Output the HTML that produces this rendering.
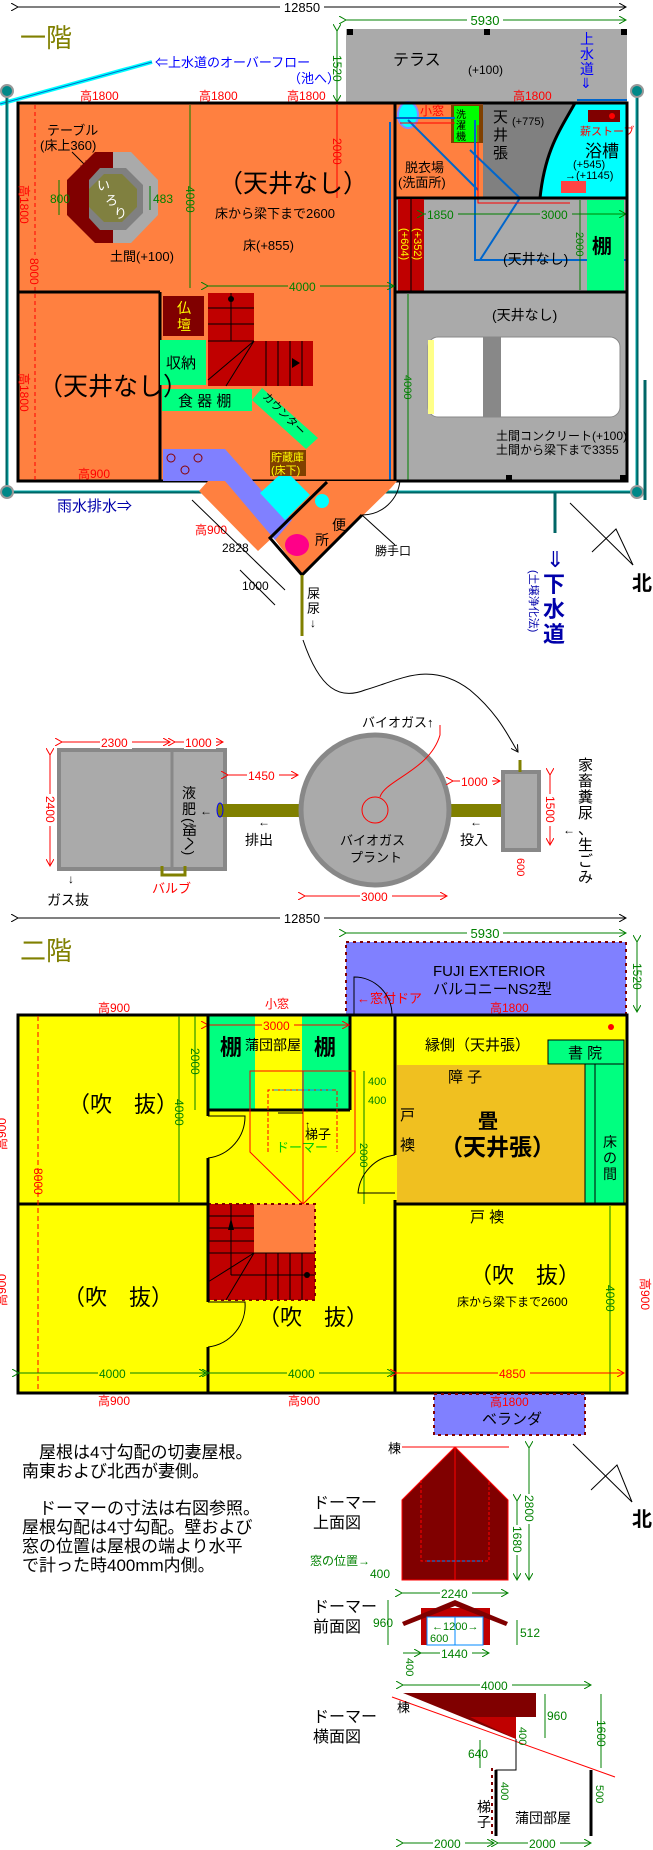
<!DOCTYPE html>
<html><head><meta charset="utf-8"><style>
html,body{margin:0;padding:0;background:#fff;}
svg{display:block;font-family:"Liberation Sans","Noto Sans CJK JP",sans-serif;}
</style></head><body>
<svg width="653" height="1850" viewBox="0 0 653 1850" xmlns="http://www.w3.org/2000/svg">
<defs>
<marker id="ab" markerWidth="8" markerHeight="8" refX="7" refY="4" orient="auto"><path d="M0,0 L7,4 L0,8" fill="none" stroke="#000"/></marker>
<marker id="ag" markerWidth="8" markerHeight="8" refX="7" refY="4" orient="auto"><path d="M0,0 L7,4 L0,8" fill="none" stroke="#008000"/></marker>
<marker id="ar" markerWidth="8" markerHeight="8" refX="7" refY="4" orient="auto"><path d="M0,0 L7,4 L0,8" fill="none" stroke="#f00"/></marker>
</defs>

<!-- ===== 1F ===== -->
<line x1="18" y1="7" x2="626" y2="7" stroke="#000" marker-start="url(#ab)" marker-end="url(#ab)"/>
<rect x="280" y="0" width="44" height="14" fill="#fff"/><text x="302" y="12" font-size="13" text-anchor="middle">12850</text>
<line x1="346" y1="20" x2="626" y2="20" stroke="#008000" marker-start="url(#ag)" marker-end="url(#ag)"/>
<rect x="467" y="13" width="36" height="14" fill="#fff"/><text x="485" y="25" font-size="13" fill="#008000" text-anchor="middle">5930</text>
<text x="20" y="47" font-size="26" fill="#808000">一階</text>

<rect x="346" y="29" width="281" height="75" fill="#aaa"/>
<rect x="347" y="29" width="6" height="6"/><rect x="484" y="29" width="6" height="6"/><rect x="621" y="29" width="6" height="6"/>
<text x="393" y="65" font-size="16">テラス</text><text x="468" y="74" font-size="12">(+100)</text>
<line x1="337" y1="31" x2="337" y2="102" stroke="#008000" marker-start="url(#ag)" marker-end="url(#ag)"/>
<text x="0" y="0" font-size="12" fill="#008000" transform="translate(333,55) rotate(90)">1520</text>
<text x="580" y="44" font-size="14" fill="#00f">上</text><text x="580" y="59" font-size="14" fill="#00f">水</text><text x="580" y="74" font-size="14" fill="#00f">道</text><text x="580" y="88" font-size="14" fill="#00f">⇓</text>

<line x1="0" y1="104" x2="152" y2="62" stroke="#0ff" stroke-width="4"/>
<line x1="0" y1="104" x2="152" y2="62" stroke="#06c" stroke-width="1"/>
<text x="155" y="67" font-size="13" fill="#00f">⇐上水道のオーバーフロー</text>
<text x="288" y="83" font-size="13" fill="#00f">（池へ）</text>
<g font-size="12" fill="#f00"><text x="80" y="100">高1800</text><text x="199" y="100">高1800</text><text x="287" y="100">高1800</text><text x="513" y="100">高1800</text></g>

<!-- drains -->
<g stroke="#066" stroke-width="3" fill="none"><path d="M7,91 V492 H637 V91"/></g>
<g stroke="#0aa" stroke-width="1" fill="none"><path d="M8,91 V491 H636 V91"/></g>
<g fill="#088" stroke="#999" stroke-width="2"><circle cx="7" cy="91" r="6"/><circle cx="637" cy="91" r="6"/><circle cx="7" cy="492" r="6"/><circle cx="637" cy="492" r="6"/></g>
<line x1="645" y1="380" x2="645" y2="500" stroke="#066" stroke-width="3"/>

<!-- building -->
<rect x="18" y="103" width="377" height="378" fill="#ff8040"/>
<rect x="395" y="103" width="232" height="378" fill="#aaa"/>
<rect x="395" y="103" width="88" height="95" fill="#ff8040"/>
<path d="M483,103 H575 C560,130 545,150 540,198 H483 Z" fill="#808080"/>
<path d="M575,103 H626 V198 H540 C545,150 560,130 575,103 Z" fill="#0ff"/>
<path d="M575,103 C560,130 545,150 540,198" stroke="#000" stroke-width="3" fill="none"/>
<rect x="588" y="110" width="32" height="12" fill="#800000"/><circle cx="612" cy="116" r="3" fill="#f00"/>
<text x="580" y="135" font-size="11" fill="#f00">薪ストーブ</text>
<text x="585" y="157" font-size="17">浴槽</text><text x="573" y="168" font-size="11">(+545)</text><text x="565" y="179" font-size="11">→(+1145)</text>
<rect x="561" y="181" width="25" height="12" fill="#f44"/>
<text x="512" y="125" font-size="11">(+775)</text>
<text x="493" y="122" font-size="15">天</text><text x="493" y="140" font-size="15">井</text><text x="493" y="158" font-size="15">張</text>
<rect x="451" y="105" width="32" height="38" fill="#804000"/><rect x="454" y="106" width="25" height="36" fill="#0f0"/>
<text x="456" y="118" font-size="10">洗</text><text x="456" y="129" font-size="10">濯</text><text x="456" y="140" font-size="10">機</text>
<text x="420" y="115" font-size="12" fill="#f00">小窓</text>
<ellipse cx="408" cy="115" rx="10" ry="13" fill="#0ff" stroke="#88f" stroke-width="2"/>
<text x="405" y="172" font-size="13">脱衣場</text><text x="398" y="187" font-size="13">(洗面所)</text>
<g stroke="#06c" stroke-width="2" fill="none"><path d="M408,120 L478,190"/><path d="M470,150 L520,198 L480,260"/><path d="M395,118 H455"/><path d="M475,120 V260 H627"/><path d="M577,100 H627"/><path d="M390,122 V480 L300,560"/></g>
<g stroke="#f00" stroke-width="1" fill="none"><path d="M400,123 H455"/><path d="M478,125 V203 H570"/></g>
<line x1="395" y1="198" x2="627" y2="198" stroke="#000" stroke-width="3"/>
<rect x="398" y="199" width="26" height="93" fill="#c00000"/><line x1="411" y1="199" x2="411" y2="292" stroke="#000"/>
<text x="0" y="0" font-size="11" fill="#ff0" transform="translate(401,228) rotate(90)">(+604)</text>
<text x="0" y="0" font-size="11" fill="#ff0" transform="translate(414,228) rotate(90)">(+352)</text>
<rect x="587" y="200" width="37" height="92" fill="#00ff80"/>
<text x="592" y="253" font-size="20" font-weight="bold">棚</text>
<line x1="424" y1="214" x2="626" y2="214" stroke="#008000" marker-start="url(#ag)" marker-end="url(#ag)"/>
<rect x="426" y="207" width="32" height="14" fill="#aaa"/><text x="427" y="219" font-size="12" fill="#008000">1850</text>
<rect x="540" y="207" width="32" height="14" fill="#aaa"/><text x="541" y="219" font-size="12" fill="#008000">3000</text>
<line x1="580" y1="200" x2="580" y2="290" stroke="#008000"/>
<text x="0" y="0" font-size="11" fill="#008000" transform="translate(576,232) rotate(90)">2000</text>
<text x="503" y="264" font-size="14">(天井なし)</text>
<line x1="395" y1="292" x2="627" y2="292" stroke="#000" stroke-width="3"/>
<text x="492" y="320" font-size="14">(天井なし)</text>
<!-- car -->
<rect x="428" y="337" width="192" height="80" rx="10" fill="#fff" stroke="#888"/>
<rect x="483" y="337" width="18" height="80" fill="#888"/>
<rect x="428" y="340" width="6" height="74" fill="#ff8"/>
<text x="496" y="440" font-size="12">土間コンクリート(+100)</text>
<text x="496" y="454" font-size="12">土間から梁下まで3355</text>
<line x1="408" y1="294" x2="408" y2="480" stroke="#008000"/>
<text x="0" y="0" font-size="11" fill="#008000" transform="translate(404,375) rotate(90)">4000</text>
<rect x="506" y="475" width="6" height="6"/><rect x="620" y="475" width="6" height="6"/>
<line x1="395" y1="103" x2="395" y2="481" stroke="#000" stroke-width="3"/>
<rect x="18" y="103" width="609" height="378" fill="none" stroke="#000" stroke-width="3"/>

<!-- left 1F -->
<text x="47" y="135" font-size="13">テーブル</text><text x="40" y="150" font-size="13">(床上360)</text>
<line x1="72" y1="152" x2="88" y2="168" stroke="#000" marker-end="url(#ab)"/>
<polygon points="95,152 113,152 113,243 95,243 67,215 67,180" fill="#800000"/>
<polygon points="113,152 131,152 158,180 158,215 131,243 113,243" fill="#aaa"/>
<polygon points="100,168 126,168 143,185 143,213 126,230 100,230 89,218 89,180" fill="#808080"/>
<polygon points="104,174 122,174 137,189 137,207 122,222 104,222 89,207 89,189" fill="#808040"/>
<text x="97" y="190" font-size="13" fill="#fff">い</text><text x="105" y="205" font-size="13" fill="#fff">ろ</text><text x="114" y="218" font-size="13" fill="#fff">り</text>
<line x1="59" y1="180" x2="59" y2="215" stroke="#008000"/><text x="50" y="203" font-size="12" fill="#008000">800</text>
<line x1="150" y1="186" x2="150" y2="210" stroke="#008000"/><text x="153" y="203" font-size="12" fill="#008000">483</text>
<text x="110" y="261" font-size="13">土間(+100)</text>
<line x1="35" y1="105" x2="35" y2="480" stroke="#f00" stroke-dasharray="4,3"/>
<rect x="30" y="255" width="12" height="30" fill="#ff8040"/>
<text x="0" y="0" font-size="12" fill="#f00" transform="translate(30,258) rotate(90)">8000</text>
<text x="0" y="0" font-size="12" fill="#f00" transform="translate(20,185) rotate(90)">高1800</text>
<text x="0" y="0" font-size="12" fill="#f00" transform="translate(20,373) rotate(90)">高1800</text>
<line x1="190" y1="105" x2="190" y2="288" stroke="#008000"/>
<text x="0" y="0" font-size="12" fill="#008000" transform="translate(186,186) rotate(90)">4000</text>
<line x1="337" y1="104" x2="337" y2="198" stroke="#f00"/>
<text x="0" y="0" font-size="12" fill="#f00" transform="translate(333,138) rotate(90)">2000</text>
<text x="218" y="192" font-size="25">（天井なし）</text>
<text x="215" y="218" font-size="13">床から梁下まで2600</text>
<text x="243" y="250" font-size="13">床(+855)</text>
<line x1="208" y1="286" x2="394" y2="286" stroke="#008000" marker-start="url(#ag)" marker-end="url(#ag)"/>
<rect x="288" y="279" width="32" height="14" fill="#ff8040"/><text x="289" y="291" font-size="12" fill="#008000">4000</text>
<line x1="18" y1="292" x2="160" y2="292" stroke="#000" stroke-width="3"/>
<line x1="160" y1="292" x2="160" y2="481" stroke="#000" stroke-width="3"/>
<rect x="163" y="296" width="41" height="40" fill="#800000"/><text x="177" y="313" font-size="14" fill="#ff0">仏</text><text x="177" y="330" font-size="14" fill="#ff0">壇</text>
<rect x="160" y="340" width="46" height="45" fill="#00ff80"/><text x="166" y="368" font-size="15">収納</text>
<rect x="208" y="293" width="46" height="93" fill="#c00000"/><rect x="254" y="341" width="59" height="45" fill="#c00000"/>
<g stroke="#000" stroke-width="1"><line x1="208" y1="308" x2="254" y2="308"/><line x1="208" y1="324" x2="254" y2="324"/><line x1="231" y1="293" x2="231" y2="341"/><line x1="266" y1="341" x2="266" y2="386"/><line x1="278" y1="341" x2="278" y2="386"/><line x1="290" y1="341" x2="290" y2="386"/><line x1="302" y1="341" x2="302" y2="386"/><line x1="208" y1="341" x2="254" y2="341"/><line x1="208" y1="380" x2="254" y2="341"/><line x1="226" y1="386" x2="254" y2="341"/></g>
<circle cx="231" cy="299" r="3"/><path d="M292,358 L300,363 L292,368 Z"/>
<rect x="162" y="389" width="90" height="22" fill="#00ff80"/><text x="178" y="406" font-size="15">食 器 棚</text>
<polygon points="262,388 318,438 306,449 252,400" fill="#00ff80"/>
<text x="0" y="0" font-size="11" transform="translate(262,397) rotate(45)">カウンター</text>
<text x="38" y="395" font-size="25">（天井なし）</text>
<text x="78" y="478" font-size="12" fill="#f00">高900</text>
<!-- annex -->
<polygon points="199,491 208,481 397,481 391,488 302,575 273,537 258,551" fill="#ff8040"/>
<polygon points="163,449 225,449 270,500 292,520 275,540 225,481 163,481" fill="#8080ff"/>
<polygon points="260,493 285,470 310,495 285,520" fill="#0ff"/>
<g fill="none" stroke="#800" stroke-width="1"><circle cx="171" cy="458" r="4"/><circle cx="198" cy="458" r="4"/><circle cx="185" cy="470" r="4"/></g>
<rect x="270" y="450" width="36" height="26" fill="#804000"/>
<text x="271" y="461" font-size="11" fill="#ff0">貯蔵庫</text><text x="271" y="474" font-size="11" fill="#ff0">(床下)</text>
<path d="M327,482 L270,538 L302,575 L362,515" fill="none" stroke="#000" stroke-width="3"/>
<path d="M362,515 A38,38 0 0 0 400,480" fill="none" stroke="#000"/>
<line x1="362" y1="515" x2="395" y2="545" stroke="#000"/>
<ellipse cx="297" cy="545" rx="12" ry="11" fill="#f08"/>
<circle cx="322" cy="501" r="7" fill="#0ff"/>
<text x="332" y="530" font-size="14">便</text><text x="315" y="545" font-size="14">所</text>
<text x="375" y="555" font-size="12">勝手口</text>
<text x="195" y="534" font-size="12" fill="#f00">高900</text>
<line x1="192" y1="500" x2="285" y2="590" stroke="#000"/>
<text x="222" y="552" font-size="12">2828</text>
<line x1="240" y1="570" x2="275" y2="605" stroke="#000"/>
<text x="242" y="590" font-size="12">1000</text>
<text x="57" y="511" font-size="15" fill="#00a">雨水排水⇒</text>
<line x1="302" y1="575" x2="302" y2="636" stroke="#808000" stroke-width="3"/>
<text x="307" y="598" font-size="13">屎</text><text x="307" y="613" font-size="13">尿</text><text x="310" y="627" font-size="12">↓</text>
<line x1="555" y1="493" x2="555" y2="533" stroke="#066" stroke-width="3"/>
<text x="546" y="567" font-size="22" fill="#00a">⇓</text>
<text x="543" y="592" font-size="22" fill="#00a" font-weight="bold">下</text>
<text x="543" y="617" font-size="22" fill="#00a" font-weight="bold">水</text>
<text x="543" y="642" font-size="22" fill="#00a" font-weight="bold">道</text>
<text x="0" y="0" font-size="11" fill="#00a" transform="translate(530,570) rotate(90)">(土壌浄化法)</text>
<g stroke="#000" fill="none"><line x1="570" y1="503" x2="633" y2="565"/><path d="M592,552 L616,529 L633,565"/></g>
<text x="632" y="590" font-size="20" font-weight="bold">北</text>
<path d="M303,640 C320,690 340,700 365,690 C400,680 430,660 470,690 C500,715 510,740 518,752" fill="none" stroke="#000" marker-end="url(#ab)"/>

<!-- ===== biogas ===== -->
<rect x="59" y="750" width="166" height="119" fill="#aaa" stroke="#888" stroke-width="4"/>
<line x1="172" y1="750" x2="172" y2="869" stroke="#888" stroke-width="3"/>
<line x1="62" y1="742" x2="170" y2="742" stroke="#f00" marker-start="url(#ar)" marker-end="url(#ar)"/>
<rect x="100" y="735" width="32" height="14" fill="#fff"/><text x="101" y="747" font-size="12" fill="#f00">2300</text>
<line x1="175" y1="742" x2="223" y2="742" stroke="#f00" marker-start="url(#ar)" marker-end="url(#ar)"/>
<rect x="184" y="735" width="32" height="14" fill="#fff"/><text x="185" y="747" font-size="12" fill="#f00">1000</text>
<line x1="50" y1="755" x2="50" y2="866" stroke="#f00" marker-start="url(#ar)" marker-end="url(#ar)"/>
<rect x="44" y="794" width="12" height="32" fill="#fff"/><text x="0" y="0" font-size="12" fill="#f00" transform="translate(46,796) rotate(90)">2400</text>
<text x="182" y="798" font-size="14">液</text><text x="182" y="814" font-size="14">肥</text>
<text x="0" y="0" font-size="14" transform="translate(184,818) rotate(90)">(畑へ)</text>
<text x="200" y="815" font-size="12">←</text>
<rect x="218" y="804" width="92" height="13" fill="#808000"/>
<ellipse cx="220" cy="810" rx="3" ry="7" fill="#808000" stroke="#00f"/>
<ellipse cx="440" cy="810" rx="4" ry="7" fill="#808000" stroke="#00f"/>
<rect x="440" y="804" width="72" height="13" fill="#808000"/>
<ellipse cx="375" cy="810" rx="74" ry="75" fill="#aaa" stroke="#888" stroke-width="5"/>
<circle cx="375" cy="810" r="13" fill="none" stroke="#f00"/>
<path d="M380,797 C385,780 430,770 440,735 V725" stroke="#f00" fill="none"/>
<text x="362" y="727" font-size="13">バイオガス↑</text>
<text x="340" y="845" font-size="13">バイオガス</text><text x="350" y="862" font-size="13">プラント</text>
<text x="258" y="826" font-size="12">←</text><text x="245" y="845" font-size="14">排出</text>
<text x="470" y="826" font-size="12">←</text><text x="460" y="845" font-size="14">投入</text>
<line x1="228" y1="775" x2="298" y2="775" stroke="#f00" marker-start="url(#ar)" marker-end="url(#ar)"/>
<rect x="247" y="768" width="32" height="14" fill="#fff"/><text x="248" y="780" font-size="12" fill="#f00">1450</text>
<line x1="453" y1="781" x2="500" y2="781" stroke="#f00" marker-start="url(#ar)" marker-end="url(#ar)"/>
<rect x="460" y="774" width="32" height="14" fill="#fff"/><text x="461" y="786" font-size="12" fill="#f00">1000</text>
<rect x="503" y="772" width="36" height="78" fill="#aaa" stroke="#888" stroke-width="4"/>
<line x1="520" y1="760" x2="520" y2="772" stroke="#808000" stroke-width="3"/>
<line x1="550" y1="775" x2="550" y2="845" stroke="#f00" marker-start="url(#ar)" marker-end="url(#ar)"/>
<rect x="544" y="794" width="12" height="32" fill="#fff"/><text x="0" y="0" font-size="12" fill="#f00" transform="translate(546,796) rotate(90)">1500</text>
<text x="0" y="0" font-size="11" fill="#f00" transform="translate(517,858) rotate(90)">600</text>
<text x="563" y="834" font-size="12">←</text>
<g font-size="15"><text x="578" y="770">家</text><text x="578" y="786">畜</text><text x="578" y="802">糞</text><text x="578" y="818">尿</text><text x="578" y="834">、</text><text x="578" y="850">生</text><text x="578" y="866">ご</text><text x="578" y="882">み</text></g>
<line x1="305" y1="896" x2="447" y2="896" stroke="#f00" marker-start="url(#ar)" marker-end="url(#ar)"/>
<rect x="360" y="889" width="32" height="14" fill="#fff"/><text x="361" y="901" font-size="12" fill="#f00">3000</text>
<text x="47" y="905" font-size="14">ガス抜</text><text x="68" y="883" font-size="12">↓</text>
<path d="M162,866 V875 H185 V866" stroke="#808000" stroke-width="3" fill="none"/>
<text x="152" y="893" font-size="13" fill="#f00">バルブ</text>

<!-- ===== 2F ===== -->
<line x1="18" y1="918" x2="626" y2="918" stroke="#000" marker-start="url(#ab)" marker-end="url(#ab)"/>
<rect x="280" y="911" width="44" height="14" fill="#fff"/><text x="302" y="923" font-size="13" text-anchor="middle">12850</text>
<line x1="346" y1="933" x2="626" y2="933" stroke="#008000" marker-start="url(#ag)" marker-end="url(#ag)"/>
<rect x="467" y="926" width="36" height="14" fill="#fff"/><text x="485" y="938" font-size="13" fill="#008000" text-anchor="middle">5930</text>
<text x="20" y="960" font-size="26" fill="#808000">二階</text>
<rect x="346" y="942" width="280" height="73" fill="#8080ff" stroke="#800000" stroke-dasharray="3,4" stroke-width="2"/>
<text x="433" y="976" font-size="15">FUJI EXTERIOR</text><text x="433" y="994" font-size="15">バルコニーNS2型</text>
<text x="357" y="1003" font-size="13" fill="#f00">←窓付ドア</text>
<path d="M354,1015 V977 A38,38 0 0 1 392,1015" fill="none" stroke="#000"/>
<line x1="637" y1="942" x2="637" y2="1012" stroke="#008000" marker-start="url(#ag)" marker-end="url(#ag)"/>
<text x="0" y="0" font-size="12" fill="#008000" transform="translate(633,963) rotate(90)">1520</text>
<text x="98" y="1012" font-size="12" fill="#f00">高900</text><text x="265" y="1008" font-size="12" fill="#f00">小窓</text><text x="490" y="1012" font-size="12" fill="#f00">高1800</text>

<rect x="18" y="1015" width="609" height="378" fill="#ff0"/>
<rect x="208" y="1016" width="142" height="94" fill="#00ff80"/><rect x="255" y="1016" width="47" height="94" fill="#ff0"/>
<line x1="208" y1="1110" x2="350" y2="1110" stroke="#000" stroke-width="3"/><line x1="350" y1="1015" x2="350" y2="1110" stroke="#000" stroke-width="3"/>
<line x1="208" y1="1025" x2="349" y2="1025" stroke="#f00" marker-start="url(#ar)" marker-end="url(#ar)"/>
<rect x="262" y="1018" width="32" height="14" fill="#ff0"/><text x="263" y="1030" font-size="12" fill="#f00">3000</text>
<text x="220" y="1055" font-size="22" font-weight="bold">棚</text><text x="245" y="1050" font-size="14">蒲団部屋</text><text x="314" y="1055" font-size="22" font-weight="bold">棚</text>
<path d="M250,1071 H355 V1152 L303,1204 L250,1152 Z M303,1071 V1204" fill="none" stroke="#f00"/>
<path d="M268,1152 V1090 H337 V1152" fill="none" stroke="#f00" stroke-dasharray="4,2"/>
<line x1="274" y1="1090" x2="333" y2="1090" stroke="#08f" stroke-dasharray="4,2"/>
<line x1="278" y1="1113" x2="303" y2="1113" stroke="#000"/>
<text x="305" y="1128" font-size="10">↑</text><text x="305" y="1139" font-size="13">梯子</text>
<text x="276" y="1152" font-size="13" fill="#0c0">ドーマー</text>
<line x1="364" y1="1071" x2="364" y2="1204" stroke="#008000"/>
<text x="368" y="1085" font-size="11" fill="#008000">400</text><text x="368" y="1104" font-size="11" fill="#008000">400</text>
<text x="0" y="0" font-size="11" fill="#008000" transform="translate(360,1143) rotate(90)">2000</text>

<rect x="397" y="1065" width="188" height="139" fill="#f0c020"/>
<rect x="548" y="1040" width="76" height="24" fill="#00ff80" stroke="#000"/><text x="568" y="1058" font-size="15">書 院</text>
<rect x="585" y="1064" width="39" height="140" fill="#00ff80" stroke="#000"/><line x1="595" y1="1064" x2="595" y2="1204" stroke="#000"/>
<text x="603" y="1147" font-size="14">床</text><text x="603" y="1163" font-size="14">の</text><text x="603" y="1179" font-size="14">間</text>
<circle cx="611" cy="1027" r="3" fill="#f00"/>
<text x="425" y="1050" font-size="15">縁側（天井張）</text>
<text x="448" y="1082" font-size="15">障 子</text>
<text x="400" y="1120" font-size="15">戸</text><text x="400" y="1150" font-size="15">襖</text>
<text x="478" y="1128" font-size="20" font-weight="bold">畳</text>
<text x="440" y="1155" font-size="23" font-weight="bold">（天井張）</text>
<text x="470" y="1222" font-size="15">戸 襖</text>

<rect x="208" y="1204" width="107" height="96" fill="#c00000"/><rect x="254" y="1204" width="61" height="49" fill="#ff8040"/>
<g stroke="#000" stroke-width="1"><line x1="208" y1="1216" x2="254" y2="1216"/><line x1="208" y1="1228" x2="254" y2="1228"/><line x1="208" y1="1241" x2="254" y2="1241"/><line x1="208" y1="1253" x2="315" y2="1253"/><line x1="231" y1="1204" x2="231" y2="1275"/><line x1="231" y1="1275" x2="315" y2="1275"/><line x1="266" y1="1253" x2="266" y2="1300"/><line x1="278" y1="1253" x2="278" y2="1300"/><line x1="290" y1="1253" x2="290" y2="1300"/><line x1="302" y1="1253" x2="302" y2="1300"/><line x1="208" y1="1282" x2="254" y2="1253"/><line x1="226" y1="1300" x2="254" y2="1253"/></g>
<circle cx="307" cy="1275" r="3"/><path d="M228,1230 L231,1218 L234,1230 Z"/>
<rect x="208" y="1204" width="107" height="96" fill="none" stroke="#800000" stroke-dasharray="3,4" stroke-width="2"/>

<g stroke="#000" stroke-width="3" fill="none">
<line x1="18" y1="1204" x2="208" y2="1204"/><line x1="395" y1="1204" x2="626" y2="1204"/>
<path d="M208,1015 V1116"/><path d="M208,1158 V1302"/><path d="M208,1347 V1393"/>
<path d="M395,1015 V1155"/><path d="M395,1200 V1393"/>
<rect x="18" y="1015" width="609" height="378"/>
</g>
<g stroke="#000" fill="none"><path d="M208,1116 H245 A42,42 0 0 1 208,1158"/><path d="M208,1302 H245 A42,42 0 0 1 208,1347"/><path d="M395,1155 A42,42 0 0 0 358,1193 H395"/></g>
<line x1="38" y1="1016" x2="38" y2="1392" stroke="#f00" stroke-dasharray="5,3"/>
<text x="0" y="0" font-size="12" fill="#f00" transform="translate(34,1168) rotate(90)">8000</text>
<text x="0" y="0" font-size="12" fill="#f00" transform="translate(6,1150) rotate(-90)">高900</text>
<text x="0" y="0" font-size="12" fill="#f00" transform="translate(6,1306) rotate(-90)">高900</text>
<text x="0" y="0" font-size="12" fill="#f00" transform="translate(641,1278) rotate(90)">高900</text>
<line x1="179" y1="1016" x2="179" y2="1202" stroke="#008000"/><text x="0" y="0" font-size="12" fill="#008000" transform="translate(175,1099) rotate(90)">4000</text>
<line x1="195" y1="1016" x2="195" y2="1110" stroke="#008000"/><text x="0" y="0" font-size="12" fill="#008000" transform="translate(191,1048) rotate(90)">2000</text>
<line x1="610" y1="1206" x2="610" y2="1392" stroke="#008000"/><text x="0" y="0" font-size="12" fill="#008000" transform="translate(606,1285) rotate(90)">4000</text>
<text x="68" y="1112" font-size="22">（吹　抜）</text>
<text x="63" y="1305" font-size="22">（吹　抜）</text>
<text x="258" y="1325" font-size="22">（吹　抜）</text>
<text x="470" y="1283" font-size="22">（吹　抜）</text>
<text x="457" y="1306" font-size="12">床から梁下まで2600</text>
<line x1="19" y1="1373" x2="206" y2="1373" stroke="#008000" marker-start="url(#ag)" marker-end="url(#ag)"/><rect x="98" y="1366" width="32" height="14" fill="#ff0"/><text x="99" y="1378" font-size="12" fill="#008000">4000</text>
<line x1="209" y1="1373" x2="394" y2="1373" stroke="#008000" marker-start="url(#ag)" marker-end="url(#ag)"/><rect x="287" y="1366" width="32" height="14" fill="#ff0"/><text x="288" y="1378" font-size="12" fill="#008000">4000</text>
<line x1="397" y1="1373" x2="624" y2="1373" stroke="#f00" marker-start="url(#ar)" marker-end="url(#ar)"/><rect x="498" y="1366" width="32" height="14" fill="#ff0"/><text x="499" y="1378" font-size="12" fill="#f00">4850</text>

<rect x="434" y="1394" width="151" height="41" fill="#8080ff" stroke="#800000" stroke-dasharray="3,4" stroke-width="2"/>
<text x="490" y="1406" font-size="12" fill="#f00">高1800</text><text x="482" y="1424" font-size="15">ベランダ</text>
<text x="98" y="1405" font-size="12" fill="#f00">高900</text><text x="288" y="1405" font-size="12" fill="#f00">高900</text>

<!-- notes -->
<g font-size="17">
<text x="22" y="1458">　屋根は4寸勾配の切妻屋根。</text>
<text x="22" y="1477">南東および北西が妻側。</text>
<text x="22" y="1514">　ドーマーの寸法は右図参照。</text>
<text x="22" y="1533">屋根勾配は4寸勾配。壁および</text>
<text x="22" y="1552">窓の位置は屋根の端より水平</text>
<text x="22" y="1571">で計った時400mm内側。</text>
</g>
<g stroke="#000" fill="none"><line x1="573" y1="1444" x2="632" y2="1502"/><path d="M591,1490 L617,1465 L632,1502"/></g>
<text x="632" y="1526" font-size="20" font-weight="bold">北</text>

<!-- dormer top -->
<line x1="402" y1="1447" x2="509" y2="1447" stroke="#f00"/>
<text x="388" y="1453" font-size="13">棟</text>
<polygon points="455,1447 508,1500 508,1580 402,1580 402,1500" fill="#800000" stroke="#f00"/>
<line x1="455" y1="1447" x2="455" y2="1580" stroke="#f00"/>
<path d="M421,1480 V1561 H489 V1480" stroke="#f00" fill="none" stroke-dasharray="3,2"/>
<line x1="427" y1="1561" x2="483" y2="1561" stroke="#08f" stroke-dasharray="3,2"/>
<text x="313" y="1508" font-size="16">ドーマー</text><text x="313" y="1528" font-size="16">上面図</text>
<text x="310" y="1565" font-size="12" fill="#008000">窓の位置→</text>
<text x="370" y="1578" font-size="12" fill="#008000">400</text>
<line x1="529" y1="1448" x2="529" y2="1580" stroke="#008000" marker-start="url(#ag)" marker-end="url(#ag)"/>
<rect x="523" y="1494" width="12" height="30" fill="#fff"/><text x="0" y="0" font-size="12" fill="#008000" transform="translate(525,1495) rotate(90)">2800</text>
<line x1="517" y1="1501" x2="517" y2="1580" stroke="#008000" marker-start="url(#ag)" marker-end="url(#ag)"/>
<rect x="511" y="1525" width="12" height="30" fill="#fff"/><text x="0" y="0" font-size="12" fill="#008000" transform="translate(513,1526) rotate(90)">1680</text>
<line x1="402" y1="1593" x2="508" y2="1593" stroke="#008000" marker-start="url(#ag)" marker-end="url(#ag)"/>
<rect x="440" y="1586" width="32" height="14" fill="#fff"/><text x="441" y="1598" font-size="12" fill="#008000">2240</text>
<!-- dormer front -->
<rect x="421" y="1608" width="69" height="37" fill="#c00000"/>
<polygon points="455,1600 508,1622 506,1626 455,1606 404,1626 402,1622" fill="#800000"/>
<rect x="427" y="1617" width="56" height="28" fill="#fff" stroke="#08f"/><line x1="455" y1="1617" x2="455" y2="1645" stroke="#08f"/>
<text x="432" y="1630" font-size="11" fill="#008000">←1200→</text><text x="430" y="1642" font-size="11" fill="#008000">600</text>
<text x="313" y="1612" font-size="16">ドーマー</text><text x="313" y="1632" font-size="16">前面図</text>
<line x1="388" y1="1600" x2="388" y2="1645" stroke="#008000"/><text x="373" y="1627" font-size="12" fill="#008000">960</text>
<line x1="517" y1="1620" x2="517" y2="1645" stroke="#008000"/><text x="520" y="1637" font-size="12" fill="#008000">512</text>
<line x1="421" y1="1653" x2="489" y2="1653" stroke="#008000" marker-start="url(#ag)" marker-end="url(#ag)"/><rect x="440" y="1646" width="32" height="14" fill="#fff"/><text x="441" y="1658" font-size="12" fill="#008000">1440</text>
<line x1="403" y1="1653" x2="420" y2="1653" stroke="#008000"/>
<text x="0" y="0" font-size="11" fill="#008000" transform="translate(406,1658) rotate(90)">400</text>
<!-- dormer side -->
<line x1="403" y1="1685" x2="591" y2="1685" stroke="#008000" marker-start="url(#ag)" marker-end="url(#ag)"/><rect x="480" y="1678" width="32" height="14" fill="#fff"/><text x="481" y="1690" font-size="12" fill="#008000">4000</text>
<polygon points="403,1693 536,1693 536,1717 516,1717 516,1739" fill="#800000"/>
<polygon points="470,1717 516,1717 516,1739" fill="#c00000"/>
<line x1="392" y1="1697" x2="615" y2="1777" stroke="#f00"/>
<text x="397" y="1712" font-size="13">棟</text>
<text x="313" y="1722" font-size="16">ドーマー</text><text x="313" y="1742" font-size="16">横面図</text>
<path d="M516,1739 V1770 H496 V1836" fill="none" stroke="#000"/>
<line x1="496" y1="1770" x2="496" y2="1836" stroke="#000" stroke-width="3"/>
<line x1="591" y1="1770" x2="591" y2="1836" stroke="#000" stroke-width="3"/>
<line x1="492" y1="1768" x2="492" y2="1836" stroke="#800000" stroke-dasharray="3,4" stroke-width="2"/>
<line x1="545" y1="1694" x2="545" y2="1738" stroke="#008000"/><text x="547" y="1720" font-size="12" fill="#008000">960</text>
<line x1="601" y1="1694" x2="601" y2="1768" stroke="#008000"/><text x="0" y="0" font-size="12" fill="#008000" transform="translate(597,1720) rotate(90)">1600</text>
<line x1="480" y1="1740" x2="480" y2="1768" stroke="#008000"/><text x="468" y="1758" font-size="12" fill="#008000">640</text>
<text x="0" y="0" font-size="11" fill="#008000" transform="translate(519,1727) rotate(90)">400</text>
<text x="0" y="0" font-size="11" fill="#008000" transform="translate(501,1782) rotate(90)">400</text>
<text x="0" y="0" font-size="11" fill="#008000" transform="translate(596,1785) rotate(90)">500</text>
<text x="477" y="1812" font-size="14">梯</text><text x="477" y="1827" font-size="14">子</text>
<text x="515" y="1823" font-size="14">蒲団部屋</text>
<line x1="403" y1="1843" x2="494" y2="1843" stroke="#008000" marker-start="url(#ag)" marker-end="url(#ag)"/><rect x="433" y="1836" width="32" height="14" fill="#fff"/><text x="434" y="1848" font-size="12" fill="#008000">2000</text>
<line x1="498" y1="1843" x2="591" y2="1843" stroke="#008000" marker-start="url(#ag)" marker-end="url(#ag)"/><rect x="528" y="1836" width="32" height="14" fill="#fff"/><text x="529" y="1848" font-size="12" fill="#008000">2000</text>
</svg>
</body></html>
